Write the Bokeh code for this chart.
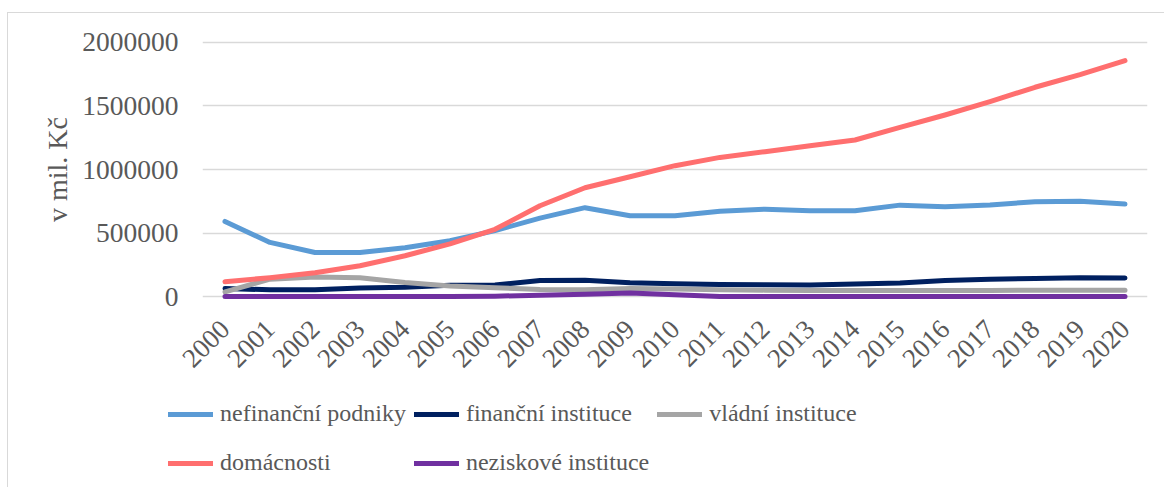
import math
from bokeh.plotting import figure
from bokeh.models import FixedTicker, BasicTickFormatter, Range1d, Legend, LegendItem
from bokeh.embed import file_html
from bokeh.resources import INLINE

years = list(range(2000, 2021))
year_labels = [str(y) for y in years]
nefinancni = [592000, 427000, 348000, 348000, 385000, 440000, 520000, 618000, 700000, 637000,
              637000, 672000, 688000, 676000, 676000, 720000, 708000, 722000, 747000, 750000, 728000]
financni = [65000, 55000, 55000, 68000, 75000, 90000, 92000, 128000, 130000, 110000,
            103000, 97000, 94000, 92000, 100000, 108000, 128000, 138000, 143000, 150000, 148000]
vladni = [38000, 138000, 155000, 149000, 112000, 85000, 70000, 58000, 55000, 65000,
          62000, 56000, 52000, 50000, 50000, 50000, 50000, 50000, 52000, 52000, 52000]
domacnosti = [118000, 150000, 189000, 244000, 322000, 415000, 530000, 715000, 857000, 943000,
              1030000, 1095000, 1140000, 1187000, 1232000, 1331000, 1428000, 1533000, 1646000, 1745000, 1855000]
neziskove = [3000, 3000, 3000, 3000, 3000, 3000, 5000, 12000, 20000, 30000,
             15000, 3000, 3000, 3000, 3000, 3000, 3000, 3000, 3000, 3000, 3000]
y_ticks = [0, 500000, 1000000, 1500000, 2000000]

series = [
    ("nefinanční podniky", nefinancni, "#5B9BD5"),
    ("finanční instituce", financni, "#002060"),
    ("vládní instituce", vladni, "#A5A5A5"),
    ("domácnosti", domacnosti, "#FF6F6F"),
    ("neziskové instituce", neziskove, "#7030A0"),
]

FONT = "Liberation Serif"
TXT = "#595959"
BORDER = "1px solid #D9D9D9"

p = figure(width=1157, height=370, output_backend="svg", toolbar_location=None,
           x_range=Range1d(1999.5, 2020.5), y_range=Range1d(-100000, 2100000),
           min_border_left=194, min_border_right=18, min_border_top=16, min_border_bottom=74)
p.margin = (12, 0, 0, 7)
p.styles = {"border-left": BORDER, "border-top": BORDER}
p.outline_line_color = None
p.background_fill_color = "white"
p.border_fill_color = "white"

p.xgrid.grid_line_color = None
p.ygrid.grid_line_color = "#D9D9D9"
p.ygrid.grid_line_width = 1.5
p.yaxis.ticker = FixedTicker(ticks=y_ticks)
p.yaxis.formatter = BasicTickFormatter(use_scientific=False)
p.xaxis.ticker = FixedTicker(ticks=years)
p.xaxis.major_label_overrides = {y: s for y, s in zip(years, year_labels)}

for ax in (p.xaxis[0], p.yaxis[0]):
    ax.axis_line_color = None
    ax.major_tick_line_color = None
    ax.minor_tick_line_color = None
    ax.major_tick_out = 0
    ax.major_tick_in = 0
    ax.minor_tick_out = 0
    ax.major_label_text_font = FONT
    ax.major_label_text_color = TXT

p.yaxis.major_label_text_font_size = "27.5px"
p.yaxis.major_label_standoff = 24
p.yaxis.axis_label = "v mil. Kč"
p.yaxis.axis_label_text_font = FONT
p.yaxis.axis_label_text_font_size = "28px"
p.yaxis.axis_label_text_font_style = "normal"
p.yaxis.axis_label_text_color = TXT
p.yaxis.axis_label_standoff = 6

p.xaxis.major_label_text_font_size = "27px"
p.xaxis.major_label_orientation = math.pi / 4
p.xaxis.major_label_standoff = 15

for name, vals, color in series:
    p.line(years, vals, line_color=color, line_width=5, line_cap="round", line_join="round")

# legend-only figure (series lines fall outside its ranges, only the legend shows)
pl = figure(width=1157, height=105, output_backend="svg", toolbar_location=None,
            x_range=Range1d(0, 1), y_range=Range1d(0, 1),
            min_border_left=0, min_border_right=0, min_border_top=0, min_border_bottom=0)
pl.margin = (0, 0, 0, 7)
pl.styles = {"border-left": BORDER}
pl.axis.visible = False
pl.grid.visible = False
pl.outline_line_color = None
pl.background_fill_color = "white"
pl.border_fill_color = "white"
items = []
for name, vals, color in series:
    r = pl.line(years, vals, line_color=color, line_width=5, line_cap="round")
    items.append(LegendItem(label=name, renderers=[r]))

legend = Legend(items=items, location=(160, 4), orientation="horizontal", ncols=3,
                label_text_font=FONT, label_text_font_size="24px", label_text_color=TXT,
                glyph_width=45, glyph_height=20, label_standoff=7, label_height=41,
                spacing=8, padding=0, margin=0, border_line_color=None,
                background_fill_alpha=0)
pl.add_layout(legend, "center")

open("out.html", "w").write(file_html([p, pl], INLINE))
